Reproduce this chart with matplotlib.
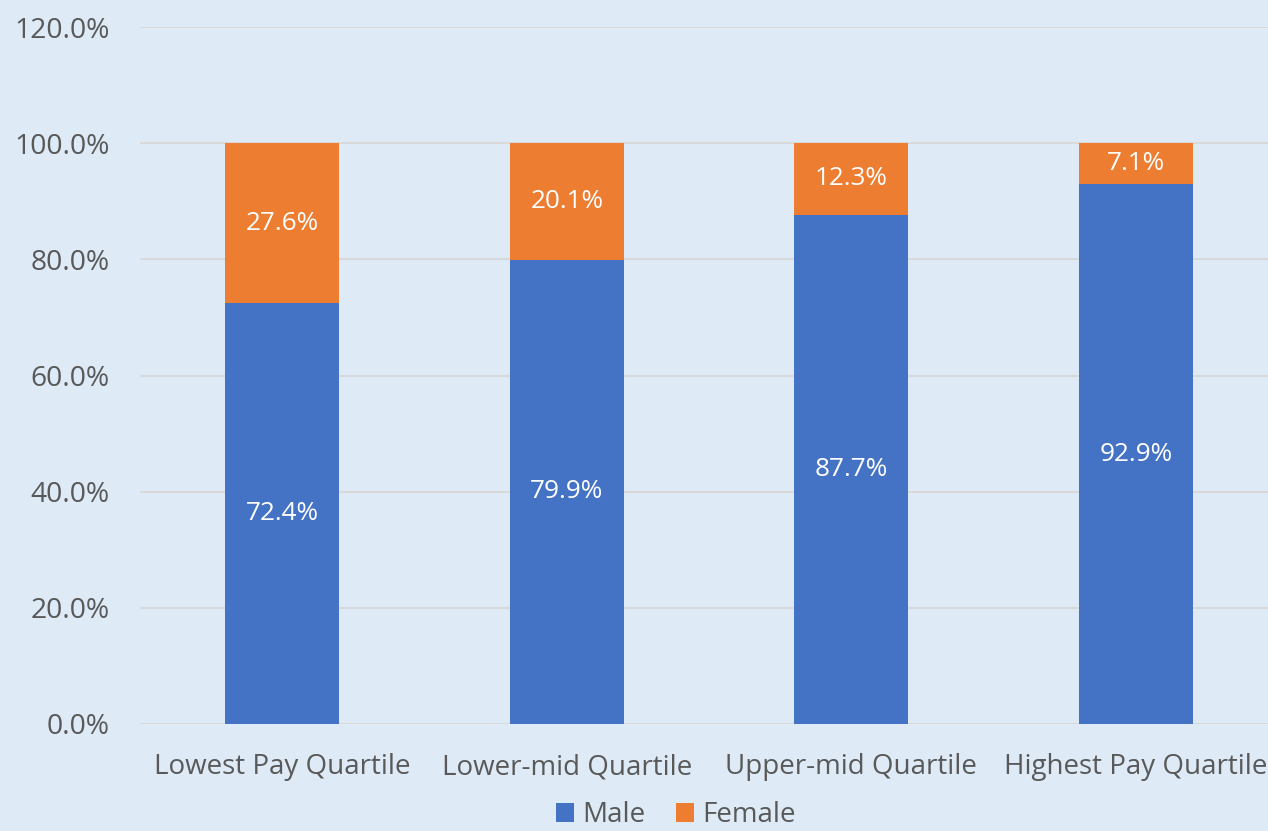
import matplotlib
matplotlib.use("Agg")
import matplotlib.pyplot as plt
import numpy as np

categories = ["Lowest Pay Quartile", "Lower-mid Quartile", "Upper-mid Quartile", "Highest Pay Quartile"]
male = [72.4, 79.9, 87.7, 92.9]
female = [27.6, 20.1, 12.3, 7.1]

bg = "#DEEAF6"
blue = "#4472C4"
orange = "#ED7D31"
txt = "#595959"

plt.rcParams['font.family'] = ['Open Sans', 'DejaVu Sans']

W, H = 1268, 831
fig = plt.figure(figsize=(W/100, H/100), dpi=100, facecolor=bg)
left, right, top, bottom = 140, 1278, 27, 724
ax = fig.add_axes([left/W, 1-bottom/H, (right-left)/W, (bottom-top)/H])
ax.set_facecolor(bg)

x = np.arange(len(categories))
b1 = ax.bar(x, male, width=0.4, color=blue, label="Male", zorder=3)
b2 = ax.bar(x, female, width=0.4, bottom=male, color=orange, label="Female", zorder=3)

for i in range(len(x)):
    ax.text(x[i], male[i]/2, f"{male[i]:.1f}%", ha="center", va="center",
            color="white", fontsize=18.8, zorder=4)
    ax.text(x[i], male[i] + female[i]/2, f"{female[i]:.1f}%", ha="center", va="center",
            color="white", fontsize=18.8, zorder=4)

ax.set_xlim(-0.5, 3.5)
ax.set_ylim(0, 120)
ax.set_yticks(np.arange(0, 121, 20))
ax.set_yticklabels([f"{v:.1f}%" for v in np.arange(0, 121, 20)])
ax.set_xticks(x)
ax.set_xticklabels(categories)
ax.grid(axis="y", color="#D9D9D9", linewidth=1.5, zorder=0)
for s in ax.spines.values():
    s.set_visible(False)
ax.tick_params(axis="y", length=0, pad=22, labelsize=20.3, labelcolor=txt)
ax.tick_params(axis="x", length=0, pad=21, labelsize=20, labelcolor=txt)

# legend sits at the very bottom edge; nudged up a little so it isn't clipped
fig.legend(handles=[b1, b2], loc="center", bbox_to_anchor=(676/W, 1-815/H),
           ncol=2, frameon=False, fontsize=20, labelcolor=txt, borderpad=0.1,
           handlelength=0.65, handleheight=0.65, handletextpad=0.3, columnspacing=1.1)

fig.savefig("out.png", dpi=100, facecolor=bg)
